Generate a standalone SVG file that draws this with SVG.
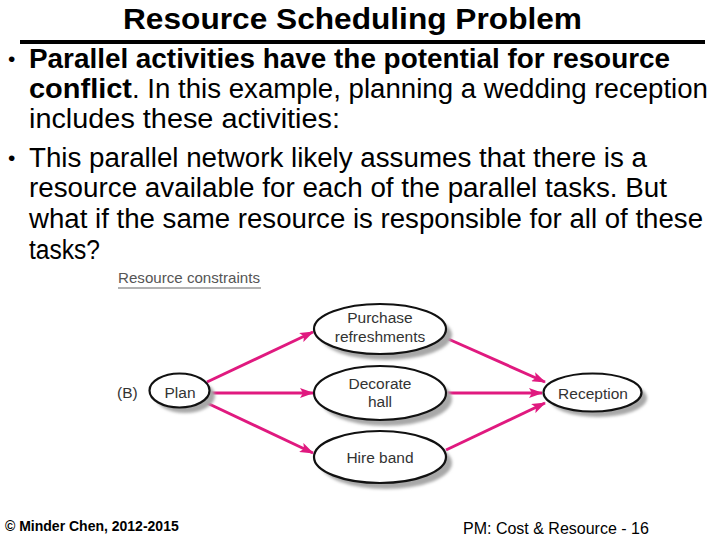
<svg xmlns="http://www.w3.org/2000/svg" width="720" height="540" viewBox="0 0 720 540">
<style>
.t{font-family:"Liberation Sans",Arial,sans-serif;fill:#000}
.b{font-size:27px}
.bb{font-size:27px;font-weight:bold}
.bul{font-family:"Liberation Sans",Arial,sans-serif;font-size:21px;fill:#000}
.n{font-family:"Liberation Sans",Arial,sans-serif;font-size:15.5px;fill:#333;text-anchor:middle}
.node{fill:#fff;stroke:#111;stroke-width:2.2}
.sh{fill:#a8a8a8;filter:url(#blur)}
.c{stroke:#e0197f;stroke-width:3;fill:none;marker-end:url(#ah)}
</style>
<defs>
<filter id="blur" x="-20%" y="-20%" width="140%" height="140%"><feGaussianBlur stdDeviation="1.5"/></filter>
<marker id="ah" viewBox="0 0 14 10" refX="13" refY="5" markerWidth="14" markerHeight="10" markerUnits="userSpaceOnUse" orient="auto">
<path d="M0,0 L14,5 L0,10 L3,5 Z" fill="#e0197f"/>
</marker>
</defs>
<rect width="720" height="540" fill="#fff"/>
<text class="t" x="123" y="29" font-size="29" font-weight="bold" textLength="459" lengthAdjust="spacingAndGlyphs">Resource Scheduling Problem</text>
<rect x="20" y="40" width="685" height="4" fill="#000"/>
<text class="bul" x="8" y="66">•</text>
<text class="t bb" x="29" y="68" textLength="641" lengthAdjust="spacingAndGlyphs">Parallel activities have the potential for resource</text>
<text class="t bb" x="29" y="98" textLength="103" lengthAdjust="spacingAndGlyphs">conflict</text>
<text class="t b" x="132" y="98" textLength="576" lengthAdjust="spacingAndGlyphs">. In this example, planning a wedding reception</text>
<text class="t b" x="29" y="128" textLength="311" lengthAdjust="spacingAndGlyphs">includes these activities:</text>
<text class="bul" x="8" y="165">•</text>
<text class="t b" x="29" y="167" textLength="618" lengthAdjust="spacingAndGlyphs">This parallel network likely assumes that there is a</text>
<text class="t b" x="29" y="197" textLength="638" lengthAdjust="spacingAndGlyphs">resource available for each of the parallel tasks. But</text>
<text class="t b" x="29" y="228" textLength="674" lengthAdjust="spacingAndGlyphs">what if the same resource is responsible for all of these</text>
<text class="t b" x="29" y="259" textLength="71" lengthAdjust="spacingAndGlyphs">tasks?</text>
<text x="118" y="283" font-family="Liberation Sans,Arial,sans-serif" font-size="15" fill="#555" textLength="142" lengthAdjust="spacingAndGlyphs">Resource constraints</text>
<line x1="118" y1="288" x2="261" y2="288" stroke="#999" stroke-width="1.5"/>
<text x="117" y="398" font-family="Liberation Sans,Arial,sans-serif" font-size="15.5" fill="#333">(B)</text>
<g id="connectors">
<line class="c" x1="207" y1="382" x2="313" y2="332"/>
<line class="c" x1="210" y1="393" x2="313" y2="393"/>
<line class="c" x1="207" y1="403" x2="313" y2="453"/>
<line class="c" x1="446" y1="338" x2="545" y2="382"/>
<line class="c" x1="447" y1="393" x2="542" y2="393"/>
<line class="c" x1="446" y1="450" x2="545" y2="403"/>
</g>
<g id="plan">
<ellipse class="sh" cx="185" cy="396" rx="30" ry="17"/>
<ellipse class="node" cx="179.5" cy="390.5" rx="30" ry="17"/>
<text class="n" x="180" y="398">Plan</text>
</g>
<g id="purchase">
<ellipse class="sh" cx="386" cy="335" rx="66" ry="25"/>
<ellipse class="node" cx="380" cy="329" rx="66" ry="25"/>
<text class="n" x="380" y="323">Purchase</text>
<text class="n" x="380" y="342">refreshments</text>
</g>
<g id="decorate">
<ellipse class="sh" cx="386" cy="399" rx="66" ry="27"/>
<ellipse class="node" cx="380" cy="393" rx="66" ry="27"/>
<text class="n" x="380" y="389">Decorate</text>
<text class="n" x="380" y="407">hall</text>
</g>
<g id="hire">
<ellipse class="sh" cx="386" cy="463" rx="66" ry="26"/>
<ellipse class="node" cx="380" cy="457" rx="66" ry="26"/>
<text class="n" x="380" y="463">Hire band</text>
</g>
<g id="reception">
<ellipse class="sh" cx="598" cy="398" rx="49" ry="19"/>
<ellipse class="node" cx="592.5" cy="392.5" rx="49" ry="19"/>
<text class="n" x="593" y="399">Reception</text>
</g>
<text class="t" x="5" y="531" font-size="14" font-weight="bold">© Minder Chen, 2012-2015</text>
<text class="t" x="463" y="534" font-size="16">PM: Cost &amp; Resource - 16</text>
</svg>
